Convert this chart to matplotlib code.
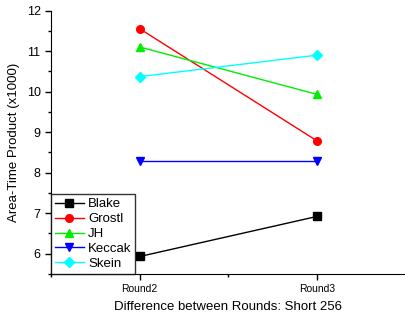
import matplotlib
matplotlib.use("Agg")
from matplotlib import pyplot as plt
from matplotlib.ticker import MultipleLocator

plt.rcParams['font.family'] = ['Liberation Sans', 'DejaVu Sans']

rounds = ["Round2", "Round3"]
blake = [5.93, 6.92]
grostl = [11.55, 8.78]
jh = [11.10, 9.93]
keccak = [8.28, 8.28]
skein = [10.37, 10.90]

series = [("Blake", blake, "black", "s"),
          ("Grostl", grostl, "red", "o"),
          ("JH", jh, "#00ee00", "^"),
          ("Keccak", keccak, "blue", "v"),
          ("Skein", skein, "cyan", "D")]

fig = plt.figure(figsize=(4.06, 3.2), dpi=100)
ax = fig.add_axes([0.1256, 0.144, 0.8744, 0.823])

x = range(len(rounds))
for name, vals, col, m in series:
    ax.plot(x, vals, color=col, marker=m, markersize=5.5, lw=1, label=name)

ax.set_xlim(-0.5, 1.5)
ax.set_ylim(5.5, 12)
ax.set_xticks(list(x))
ax.set_xticklabels(rounds, fontsize=7.5)
ax.xaxis.set_minor_locator(MultipleLocator(0.5))
ax.yaxis.set_major_locator(MultipleLocator(1))
ax.yaxis.set_minor_locator(MultipleLocator(0.5))
ax.tick_params(axis='y', labelsize=9, length=4, width=1)
ax.tick_params(axis='x', length=4, width=1)
ax.tick_params(which='minor', length=2.5, width=1)
ax.spines['top'].set_visible(False)
ax.spines['right'].set_visible(False)

ax.set_xlabel("Difference between Rounds: Short 256", fontsize=9.5, labelpad=5)
ax.set_ylabel("Area-Time Product (x1000)", fontsize=9.5, labelpad=5)

leg = ax.legend(loc="lower left", fontsize=9.5, frameon=True, fancybox=False,
                borderaxespad=0, handlelength=2.2, labelspacing=0.2,
                handletextpad=0.3, borderpad=0.3)
leg.get_frame().set_edgecolor("black")
leg.get_frame().set_linewidth(1)

plt.savefig("out.png", dpi=100)
